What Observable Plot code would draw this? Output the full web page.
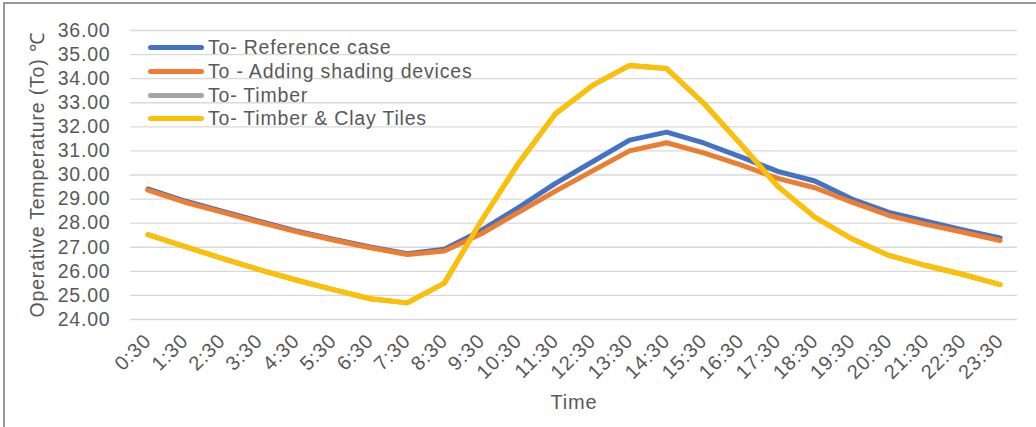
<!DOCTYPE html>
<html>
<head>
<meta charset="utf-8">
<script src="https://cdn.jsdelivr.net/npm/d3@7"></script>
<script src="https://cdn.jsdelivr.net/npm/@observablehq/plot@0.6"></script>
<style>
  html, body { margin: 0; padding: 0; background: #fff; }
  #wrap { position: relative; width: 1036px; height: 427px; overflow: hidden; }
  #legend { position: absolute; left: 148px; top: 36px; font-family: "Liberation Sans", Arial, sans-serif; font-size: 19.5px; letter-spacing: 0.8px; color: #595959; }
  .row { display: flex; align-items: center; height: 23.7px; white-space: nowrap; }
  .sw { width: 56px; height: 5px; border-radius: 3px; margin-right: 4px; }
</style>
</head>
<body>
<div id="wrap"></div>
<script>
const times = ["0:30","1:30","2:30","3:30","4:30","5:30","6:30","7:30","8:30","9:30","10:30","11:30",
  "12:30","13:30","14:30","15:30","16:30","17:30","18:30","19:30","20:30","21:30","22:30","23:30"];

const referenceCase = [29.42, 28.92, 28.50, 28.08, 27.68, 27.33, 27.01, 26.73, 26.92, 27.70, 28.65, 29.65,
  30.55, 31.45, 31.78, 31.33, 30.75, 30.15, 29.75, 29.00, 28.45, 28.08, 27.72, 27.39];
const shadingDevices = [29.37, 28.87, 28.46, 28.04, 27.65, 27.30, 26.98, 26.70, 26.84, 27.56, 28.45, 29.33,
  30.17, 31.00, 31.34, 30.92, 30.42, 29.86, 29.47, 28.87, 28.32, 27.95, 27.62, 27.28];
const timber = [27.52, 27.03, 26.54, 26.07, 25.64, 25.24, 24.86, 24.69, 25.51, 28.10, 30.48, 32.54,
  33.72, 34.55, 34.42, 32.98, 31.28, 29.53, 28.25, 27.35, 26.66, 26.24, 25.87, 25.45];
const timberClayTiles = [27.52, 27.03, 26.54, 26.07, 25.64, 25.24, 24.86, 24.69, 25.51, 28.10, 30.48, 32.54,
  33.72, 34.55, 34.42, 32.98, 31.28, 29.53, 28.25, 27.35, 26.66, 26.24, 25.87, 25.45];

const seriesNames = ["To- Reference case", "To - Adding shading devices", "To- Timber", "To- Timber & Clay Tiles"];
const seriesColors = ["#4472C4", "#ED7D31", "#A5A5A5", "#FFC000"];
const seriesValues = [referenceCase, shadingDevices, timber, timberClayTiles];

const yTicks = [24, 25, 26, 27, 28, 29, 30, 31, 32, 33, 34, 35, 36];
const yLabel = "Operative Temperature (To) ℃";
const xLabel = "Time";

const data = seriesNames.flatMap((name, s) =>
  times.map((t, i) => ({ time: t, value: seriesValues[s][i], series: name })));

const chart = Plot.plot({
  width: 1036,
  height: 427,
  marginLeft: 130,
  marginRight: 19,
  marginTop: 30,
  marginBottom: 108,
  style: {
    fontFamily: "'Liberation Sans', Arial, sans-serif",
    fontSize: "19.5px",
    color: "#595959",
    background: "white",
    letterSpacing: "0.8px",
    overflow: "visible"
  },
  x: { type: "point", domain: times, padding: 0.47, round: false },
  y: { domain: [24, 36] },
  color: { domain: seriesNames, range: seriesColors },
  marks: [
    Plot.gridY(yTicks, { stroke: "#d9d9d9", strokeOpacity: 1, strokeWidth: 1.4 }),
    Plot.axisY(yTicks, {
      tickSize: 0, tickPadding: 20, tickFormat: d => d.toFixed(2),
      label: yLabel, labelAnchor: "center", labelArrow: "none", labelOffset: 100
    }),
    Plot.axisX({
      tickSize: 0, tickPadding: 18, tickRotate: -45, fontSize: 20,
      label: xLabel, labelAnchor: "center", labelArrow: "none", labelOffset: 89
    }),
    Plot.line(data, {
      x: "time", y: "value", z: "series", stroke: "series",
      strokeWidth: 5, strokeLinejoin: "round", strokeLinecap: "round"
    })
  ]
});

const wrap = document.getElementById("wrap");
wrap.appendChild(chart);

// outer chart frame
d3.select(chart).append("rect")
  .attr("x", 4).attr("y", 3).attr("width", 1200).attr("height", 1200)
  .attr("fill", "none").attr("stroke", "#7f7f7f").attr("stroke-width", 1.6);

// legend
const legend = document.createElement("div");
legend.id = "legend";
seriesNames.forEach((name, i) => {
  const row = document.createElement("div");
  row.className = "row";
  const sw = document.createElement("span");
  sw.className = "sw";
  sw.style.background = seriesColors[i];
  const label = document.createElement("span");
  label.textContent = name;
  row.appendChild(sw);
  row.appendChild(label);
  legend.appendChild(row);
});
wrap.appendChild(legend);
</script>
</body>
</html>
